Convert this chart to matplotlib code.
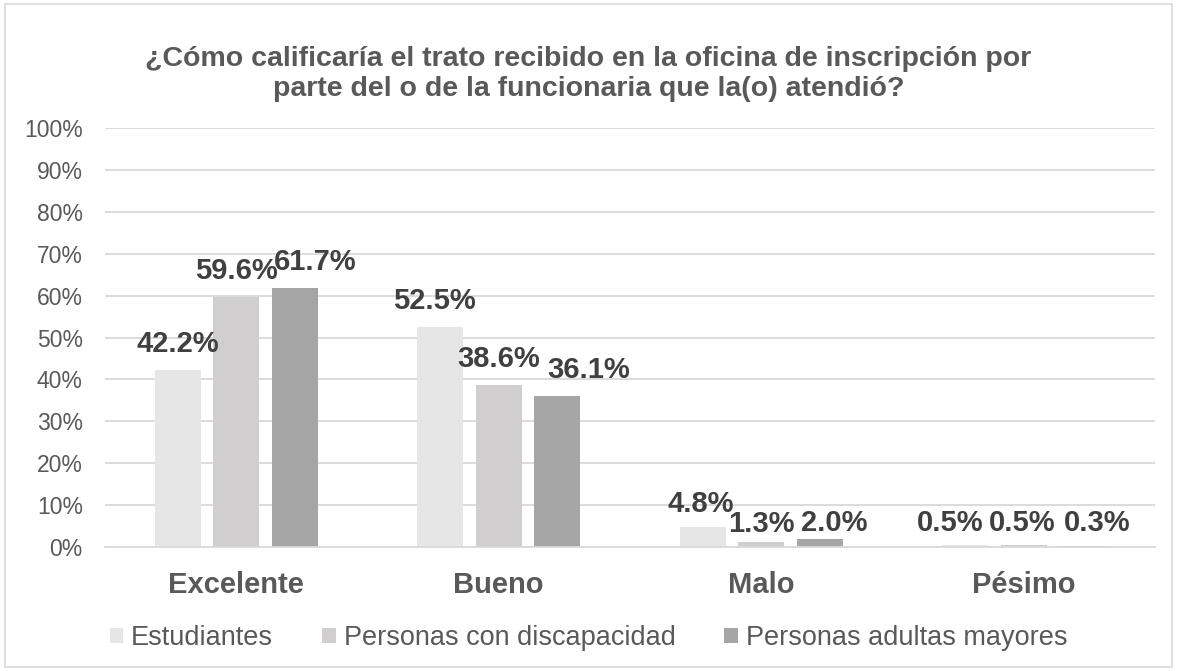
import numpy as np
import matplotlib
matplotlib.use('Agg')
import matplotlib.pyplot as plt
from matplotlib.patches import Rectangle

categories = ['Excelente', 'Bueno', 'Malo', 'Pésimo']
series_names = ['Estudiantes', 'Personas con discapacidad', 'Personas adultas mayores']
estudiantes = [42.2, 52.5, 4.8, 0.5]
discapacidad = [59.6, 38.6, 1.3, 0.5]
adultos_mayores = [61.7, 36.1, 2.0, 0.3]
yticks = [0, 10, 20, 30, 40, 50, 60, 70, 80, 90, 100]
titulo = '¿Cómo calificaría el trato recibido en la oficina de inscripción por\nparte del o de la funcionaria que la(o) atendió?'

colores = ['#E7E6E6', '#D0CECE', '#A5A5A5']

# desplazamiento de las etiquetas (px) para que no se encimen, como en el original
desp_x = [[0, -6, -2, -15], [0, 0, 0, -1], [20, 31, 15, 15]]
desp_y = [[0, 0, -3, -4], [0, 0, -8, -4], [0, 0, -10, -3]]

plt.rcParams['font.family'] = ['Liberation Sans', 'DejaVu Sans']

fig = plt.figure(figsize=(11.77, 6.71), dpi=100)
ax = fig.add_axes([0.0892, 0.1848, 0.892, 0.6244])

x = np.arange(len(categories))
ancho = 0.175
paso = 0.223
px = 72 / 100
series = [estudiantes, discapacidad, adultos_mayores]
for i, (nombre, vals) in enumerate(zip(series_names, series)):
    pos = x + (i - 1) * paso
    ax.bar(pos, vals, width=ancho, color=colores[i], label=nombre, zorder=2)
    for j, (xp, v) in enumerate(zip(pos, vals)):
        ax.annotate(f'{v:.1f}%', xy=(xp, v),
                    xytext=(desp_x[i][j] * px, (18 + desp_y[i][j]) * px),
                    textcoords='offset points', ha='center', va='baseline',
                    fontsize=21, fontweight='bold', color='#404040', zorder=3)

ax.set_xlim(-0.5, len(categories) - 0.5)
ax.set_ylim(0, 100)
ax.set_yticks(yticks)
ax.set_yticklabels([f'{t}%' for t in yticks], fontsize=16.5, color='#595959')
ax.tick_params(axis='y', length=0, pad=16)
ax.set_xticks([])
for xc, cat in zip(x, categories):
    ax.annotate(cat, xy=(xc, 0), xycoords=('data', 'axes fraction'), xytext=(0, -33),
                textcoords='offset points', ha='center', va='baseline',
                fontsize=21, fontweight='bold', color='#595959')

ax.grid(axis='y', color='#D9D9D9', linewidth=1.3, zorder=0)
for s in ['top', 'right', 'left']:
    ax.spines[s].set_visible(False)
ax.spines['bottom'].set_color('#D9D9D9')
ax.spines['bottom'].set_linewidth(1.3)

fig.text(0.5, 1 - 74 / 671, titulo, ha='center', va='center', fontsize=20.5,
         fontweight='bold', color='#595959', linespacing=1.15)

fig.legend(loc='center', bbox_to_anchor=(0.5, 1 - 638 / 671), ncol=3, frameon=False,
           fontsize=19.5, labelcolor='#595959', handlelength=0.5, handleheight=0.5,
           handletextpad=0.3, columnspacing=1.8)

fig.add_artist(Rectangle((0.004, 0.006), 0.992, 0.988, transform=fig.transFigure,
                         fill=False, edgecolor='#D9D9D9', linewidth=1.2))

fig.savefig('out.png', dpi=100)
